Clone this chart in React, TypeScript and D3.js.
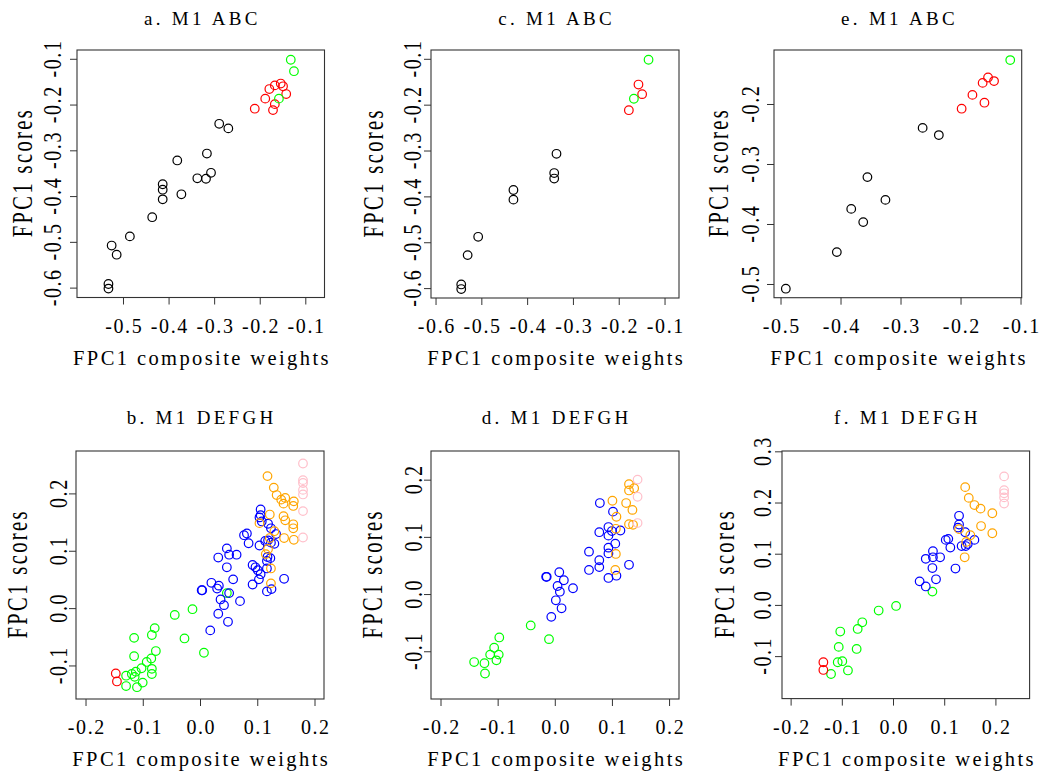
import React from 'react';
import * as d3 from 'd3';

type Pt = [number, number];

// ---------- Panel a. M1 ABC ----------
const aBlack: Pt[] = [
  [-0.290, -0.241], [-0.270, -0.251], [-0.382, -0.321], [-0.317, -0.306], [-0.308, -0.348],
  [-0.338, -0.360], [-0.319, -0.361], [-0.414, -0.373], [-0.414, -0.385], [-0.414, -0.406],
  [-0.373, -0.395], [-0.437, -0.445], [-0.486, -0.487], [-0.526, -0.507], [-0.515, -0.527],
  [-0.533, -0.591], [-0.533, -0.601],
];
const aRed: Pt[] = [
  [-0.212, -0.208], [-0.189, -0.186], [-0.180, -0.165], [-0.168, -0.157], [-0.155, -0.153],
  [-0.150, -0.159], [-0.143, -0.176], [-0.168, -0.198], [-0.172, -0.211],
];
const aGreen: Pt[] = [[-0.133, -0.101], [-0.126, -0.126], [-0.159, -0.186]];

// ---------- Panel c. M1 ABC ----------
const cBlack: Pt[] = [
  [-0.337, -0.306], [-0.342, -0.348], [-0.342, -0.360], [-0.431, -0.385], [-0.431, -0.406],
  [-0.508, -0.487], [-0.531, -0.527], [-0.545, -0.591], [-0.545, -0.601],
];
const cRed: Pt[] = [[-0.158, -0.155], [-0.150, -0.176], [-0.179, -0.211]];
const cGreen: Pt[] = [[-0.136, -0.101], [-0.168, -0.186]];

// ---------- Panel e. M1 ABC ----------
const eBlack: Pt[] = [
  [-0.264, -0.239], [-0.237, -0.251], [-0.356, -0.321], [-0.326, -0.359], [-0.383, -0.374],
  [-0.363, -0.396], [-0.407, -0.446], [-0.492, -0.507],
];
const eRed: Pt[] = [
  [-0.155, -0.155], [-0.145, -0.161], [-0.164, -0.164], [-0.181, -0.184], [-0.161, -0.197],
  [-0.199, -0.207],
];
const eGreen: Pt[] = [[-0.118, -0.126]];

// ---------- Panel b. M1 DEFGH ----------
const bGreen: Pt[] = [
  [0.046, 0.027], [-0.014, -0.001], [-0.045, -0.011], [-0.080, -0.034], [-0.085, -0.046],
  [-0.116, -0.051], [-0.028, -0.052], [0.006, -0.077], [-0.078, -0.074], [-0.116, -0.083],
  [-0.086, -0.087], [-0.094, -0.093], [-0.085, -0.105], [-0.085, -0.114], [-0.103, -0.104],
  [-0.113, -0.110], [-0.120, -0.114], [-0.130, -0.117], [-0.115, -0.119], [-0.101, -0.129],
  [-0.130, -0.135], [-0.111, -0.137],
];
const bRed: Pt[] = [[-0.148, -0.113], [-0.146, -0.127]];
const bBlue: Pt[] = [
  [0.105, 0.173], [0.105, 0.163], [0.103, 0.159], [0.107, 0.152], [0.118, 0.148],
  [0.123, 0.140], [0.132, 0.130], [0.076, 0.128], [0.081, 0.131], [0.084, 0.114],
  [0.103, 0.110], [0.113, 0.118], [0.118, 0.119], [0.123, 0.115], [0.129, 0.113],
  [0.046, 0.105], [0.050, 0.094], [0.063, 0.094], [0.031, 0.089], [0.117, 0.090],
  [0.122, 0.088], [0.116, 0.083], [0.046, 0.072], [0.091, 0.076], [0.096, 0.072],
  [0.100, 0.067], [0.116, 0.070], [0.105, 0.060], [0.057, 0.051], [0.146, 0.052],
  [0.102, 0.051], [0.091, 0.042], [0.116, 0.030], [0.124, 0.034], [0.019, 0.045],
  [0.032, 0.040], [0.029, 0.035], [0.002, 0.032], [0.003, 0.032], [0.035, 0.016],
  [0.041, 0.006], [0.069, 0.013], [0.031, -0.009], [0.048, -0.023], [0.017, -0.038],
  [0.050, 0.027],
];
const bOrange: Pt[] = [
  [0.117, 0.231], [0.128, 0.211], [0.133, 0.198], [0.141, 0.190], [0.148, 0.193],
  [0.145, 0.183], [0.163, 0.187], [0.162, 0.179], [0.121, 0.164], [0.145, 0.161],
  [0.148, 0.154], [0.162, 0.147], [0.162, 0.140], [0.103, 0.149], [0.129, 0.135],
  [0.146, 0.123], [0.163, 0.120], [0.121, 0.123], [0.118, 0.104], [0.114, 0.095],
  [0.123, 0.070], [0.123, 0.044],
];
const bPink: Pt[] = [
  [0.179, 0.253], [0.179, 0.224], [0.179, 0.219], [0.179, 0.207], [0.179, 0.199],
  [0.179, 0.170], [0.179, 0.124],
];

// ---------- Panel d. M1 DEFGH ----------
const dGreen: Pt[] = [
  [-0.043, -0.054], [-0.011, -0.078], [-0.098, -0.075], [-0.107, -0.093], [-0.114, -0.105],
  [-0.099, -0.105], [-0.103, -0.115], [-0.142, -0.118], [-0.124, -0.120], [-0.123, -0.138],
];
const dBlue: Pt[] = [
  [0.078, 0.160], [0.101, 0.145], [0.093, 0.118], [0.099, 0.111], [0.114, 0.112],
  [0.077, 0.109], [0.093, 0.103], [0.105, 0.089], [0.093, 0.082], [0.093, 0.072],
  [0.059, 0.075], [0.077, 0.060], [0.077, 0.048], [0.059, 0.043], [0.129, 0.052],
  [0.093, 0.029], [0.107, 0.033], [0.007, 0.039], [-0.016, 0.031], [-0.015, 0.031],
  [0.015, 0.025], [0.031, 0.011], [0.004, 0.015], [0.008, 0.005], [0.001, -0.010],
  [0.011, -0.024], [-0.007, -0.039],
];
const dOrange: Pt[] = [
  [0.129, 0.193], [0.138, 0.186], [0.129, 0.182], [0.100, 0.164], [0.124, 0.160],
  [0.135, 0.148], [0.107, 0.136], [0.129, 0.123], [0.136, 0.122], [0.106, 0.115],
  [0.106, 0.071], [0.105, 0.043],
];
const dPink: Pt[] = [[0.144, 0.201], [0.144, 0.171], [0.144, 0.125]];

// ---------- Panel f. M1 DEFGH ----------
const fGreen: Pt[] = [
  [0.076, 0.027], [0.005, -0.001], [-0.029, -0.010], [-0.061, -0.033], [-0.070, -0.046],
  [-0.104, -0.051], [-0.072, -0.085], [-0.107, -0.081], [-0.109, -0.111], [-0.100, -0.109],
  [-0.089, -0.127], [-0.122, -0.134],
];
const fRed: Pt[] = [[-0.137, -0.111], [-0.137, -0.126]];
const fBlue: Pt[] = [
  [0.128, 0.175], [0.128, 0.158], [0.126, 0.152], [0.140, 0.143], [0.158, 0.128],
  [0.145, 0.120], [0.141, 0.116], [0.133, 0.116], [0.102, 0.128], [0.107, 0.130],
  [0.111, 0.113], [0.077, 0.106], [0.063, 0.091], [0.077, 0.094], [0.091, 0.094],
  [0.076, 0.073], [0.121, 0.072], [0.083, 0.051], [0.051, 0.047], [0.063, 0.037],
];
const fOrange: Pt[] = [
  [0.140, 0.231], [0.147, 0.210], [0.158, 0.196], [0.170, 0.189], [0.193, 0.180],
  [0.171, 0.155], [0.193, 0.141], [0.128, 0.149], [0.150, 0.137], [0.142, 0.124],
  [0.139, 0.094],
];
const fPink: Pt[] = [[0.216, 0.252], [0.216, 0.225], [0.216, 0.219], [0.216, 0.211], [0.216, 0.199]];

// ---------- Tick values ----------
const ticksABC_x_a = [-0.5, -0.4, -0.3, -0.2, -0.1];
const ticksABC_x_c = [-0.6, -0.5, -0.4, -0.3, -0.2, -0.1];
const ticksABC_y_ac = [-0.6, -0.5, -0.4, -0.3, -0.2, -0.1];
const ticksABC_x_e = [-0.5, -0.4, -0.3, -0.2, -0.1];
const ticksABC_y_e = [-0.5, -0.4, -0.3, -0.2];
const ticksDEF_x = [-0.2, -0.1, 0.0, 0.1, 0.2];
const ticksDEF_y_bd = [-0.1, 0.0, 0.1, 0.2];
const ticksDEF_y_f = [-0.1, 0.0, 0.1, 0.2, 0.3];

const titles = ['a. M1 ABC', 'c. M1 ABC', 'e. M1 ABC', 'b. M1 DEFGH', 'd. M1 DEFGH', 'f. M1 DEFGH'];
const xLabel = 'FPC1 composite weights';
const yLabel = 'FPC1 scores';

const COL = {
  black: '#000000',
  red: '#FF0000',
  green: '#00FF00',
  blue: '#0000FF',
  orange: '#FFA500',
  pink: '#FFC0CB',
};

interface Series { color: string; pts: Pt[] }
interface PanelCfg {
  title: string;
  left: number;
  top: number;
  size: number;
  xDomain: [number, number];
  yDomain: [number, number];
  xTicks: number[];
  yTicks: number[];
  series: Series[];
  yTickGap: number;
  yTitleGap: number;
  titleY: number;
}

const panels: PanelCfg[] = [
  {
    title: titles[0], left: 77, top: 50, size: 247.5,
    xDomain: [-0.602, -0.059], yDomain: [-0.6205, -0.0797],
    xTicks: ticksABC_x_a, yTicks: ticksABC_y_ac,
    series: [{ color: COL.black, pts: aBlack }, { color: COL.red, pts: aRed }, { color: COL.green, pts: aGreen }],
    yTickGap: 16, yTitleGap: 45, titleY: 25,
  },
  {
    title: titles[1], left: 431, top: 50, size: 248,
    xDomain: [-0.611, -0.0695], yDomain: [-0.6205, -0.0797],
    xTicks: ticksABC_x_c, yTicks: ticksABC_y_ac,
    series: [{ color: COL.black, pts: cBlack }, { color: COL.red, pts: cRed }, { color: COL.green, pts: cGreen }],
    yTickGap: 10, yTitleGap: 48, titleY: 25,
  },
  {
    title: titles[2], left: 774, top: 50, size: 247.7,
    xDomain: [-0.5117, -0.0989], yDomain: [-0.522, -0.1092],
    xTicks: ticksABC_x_e, yTicks: ticksABC_y_e,
    series: [{ color: COL.black, pts: eBlack }, { color: COL.red, pts: eRed }, { color: COL.green, pts: eGreen }],
    yTickGap: 15, yTitleGap: 46, titleY: 25,
  },
  {
    title: titles[3], left: 76, top: 451, size: 248,
    xDomain: [-0.2175, 0.2157], yDomain: [-0.1576, 0.2748],
    xTicks: ticksDEF_x, yTicks: ticksDEF_y_bd,
    series: [
      { color: COL.green, pts: bGreen }, { color: COL.red, pts: bRed }, { color: COL.blue, pts: bBlue },
      { color: COL.orange, pts: bOrange }, { color: COL.pink, pts: bPink },
    ],
    yTickGap: 9, yTitleGap: 49, titleY: 424,
  },
  {
    title: titles[4], left: 431, top: 451, size: 248,
    xDomain: [-0.2175, 0.2165], yDomain: [-0.1826, 0.2510],
    xTicks: ticksDEF_x, yTicks: ticksDEF_y_bd,
    series: [
      { color: COL.green, pts: dGreen }, { color: COL.blue, pts: dBlue },
      { color: COL.orange, pts: dOrange }, { color: COL.pink, pts: dPink },
    ],
    yTickGap: 9.5, yTitleGap: 49, titleY: 424,
  },
  {
    title: titles[5], left: 782, top: 451, size: 247.6,
    xDomain: [-0.2178, 0.2658], yDomain: [-0.182, 0.3016],
    xTicks: ticksDEF_x, yTicks: ticksDEF_y_f,
    series: [
      { color: COL.green, pts: fGreen }, { color: COL.red, pts: fRed }, { color: COL.blue, pts: fBlue },
      { color: COL.orange, pts: fOrange }, { color: COL.pink, pts: fPink },
    ],
    yTickGap: 11, yTitleGap: 48.5, titleY: 424,
  },
];

const FONT = 'Liberation Serif';
const fmt = (v: number) => (Math.abs(v) < 1e-9 ? 0 : v).toFixed(1);

function Panel({ p }: { p: PanelCfg }) {
  const x = d3.scaleLinear().domain(p.xDomain).range([p.left, p.left + p.size]);
  const y = d3.scaleLinear().domain(p.yDomain).range([p.top + p.size, p.top]);
  const bottom = p.top + p.size;
  const cx = p.left + p.size / 2;
  const cy = p.top + p.size / 2;
  const tickLen = 7;
  return (
    <g>
      <text
        transform={`translate(${cx + 1.6},${p.titleY})`}
        textAnchor="middle" fontFamily={FONT} fontSize={19} letterSpacing={3.3} fill="#000"
      >
        {p.title}
      </text>
      <rect x={p.left} y={p.top} width={p.size} height={p.size} fill="none" stroke="#333" strokeWidth={1.1} />
      {p.xTicks.map((t) => (
        <g key={'x' + t}>
          <line x1={x(t)} x2={x(t)} y1={bottom} y2={bottom + tickLen} stroke="#333" strokeWidth={1} />
          <text
            transform={`translate(${x(t) + 0.8},${bottom + 35})`}
            textAnchor="middle" fontFamily={FONT} fontSize={20} letterSpacing={1.6} fill="#000"
          >
            {fmt(t)}
          </text>
        </g>
      ))}
      {p.yTicks.map((t) => (
        <g key={'y' + t}>
          <line x1={p.left - tickLen} x2={p.left} y1={y(t)} y2={y(t)} stroke="#333" strokeWidth={1} />
          <text
            transform={`translate(${p.left - p.yTickGap},${y(t) - 0.8}) rotate(-90) scale(1,1.3)`}
            textAnchor="middle" fontFamily={FONT} fontSize={20} letterSpacing={1.6} fill="#000"
          >
            {fmt(t)}
          </text>
        </g>
      ))}
      <text
        transform={`translate(${cx + 1.2},${bottom + 67})`}
        textAnchor="middle" fontFamily={FONT} fontSize={20.5} letterSpacing={2.4} fill="#000"
      >
        {xLabel}
      </text>
      <text
        transform={`translate(${p.left - p.yTitleGap},${cy - 1.2}) rotate(-90) scale(1,1.4)`}
        textAnchor="middle" fontFamily={FONT} fontSize={20.5} letterSpacing={2.4} fill="#000"
      >
        {yLabel}
      </text>
      {p.series.map((s, si) => (
        <g key={'s' + si}>
          {s.pts.map((d, i) => (
            <circle key={i} cx={x(d[0])} cy={y(d[1])} r={4.3} fill="none" stroke={s.color} strokeWidth={1.2} />
          ))}
        </g>
      ))}
    </g>
  );
}

export default function App() {
  return (
    <svg
      width={1051}
      height={774}
      style={{ position: 'absolute', left: 0, top: 0, background: '#fff' }}
    >
      <rect x={0} y={0} width={1051} height={774} fill="#fff" />
      {panels.map((p, i) => (
        <Panel key={i} p={p} />
      ))}
    </svg>
  );
}
